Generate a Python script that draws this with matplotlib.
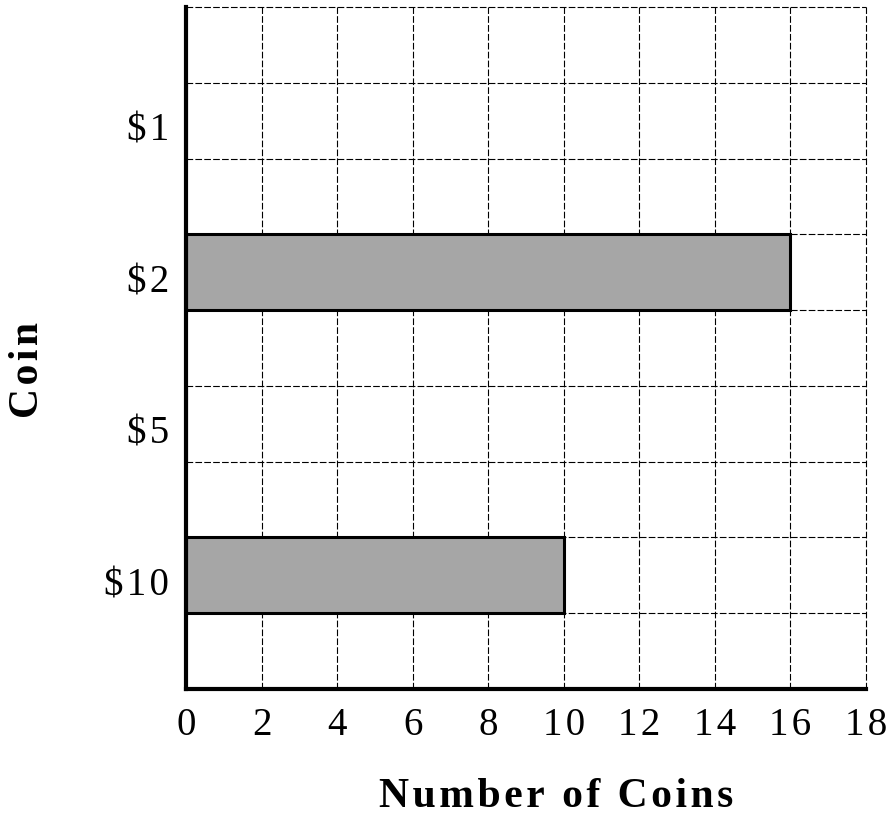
import matplotlib
matplotlib.use("Agg")
import matplotlib.pyplot as plt
import matplotlib.transforms as mtransforms
import numpy as np

coins = ["$1", "$2", "$5", "$10"]
counts = [0, 16, 0, 10]
x_ticks = [0, 2, 4, 6, 8, 10, 12, 14, 16, 18]
x_title = "Number of Coins"
y_title = "Coin"

HAIR = "\u200a"


def tracked(s):
    """Open up the letter spacing a little with hair spaces."""
    return HAIR.join(s)


plt.rcParams["font.family"] = ["Liberation Serif", "DejaVu Serif"]

fig = plt.figure(figsize=(8.86, 8.2), dpi=100)
ax = fig.add_axes([186 / 886, 1 - 690 / 820, 680 / 886, 682 / 820])

n = len(coins)
ypos = np.array([1.5 + 2 * (n - 1 - i) for i in range(n)])

ax.set_xlim(0, 18)
ax.set_ylim(0, 9)

# dashed reference grid: every 2 coins across, every half-row down
for xv in np.arange(2, 19, 2):
    ax.axvline(xv, color="black", lw=0.8, ls=(0, (6, 2)), zorder=1, clip_on=False)
for yv in np.arange(1, 10, 1):
    ax.axhline(yv, color="black", lw=0.8, ls=(0, (6, 2)), zorder=1, clip_on=False)

ax.barh(ypos, counts, height=1.0, color="#a6a6a6", edgecolor="black",
        linewidth=2.2, zorder=3)

ax.set_xticks(x_ticks)
ax.set_xticklabels([tracked(str(v)) for v in x_ticks], fontsize=28)
ax.set_yticks(ypos)
ax.set_yticklabels([tracked(c).replace("$", r"\$") for c in coins], fontsize=28)
ax.tick_params(axis="both", length=0)
ax.tick_params(axis="x", pad=12)
ax.tick_params(axis="y", pad=12)

# nudge the coin names a touch below the row centres
shift = mtransforms.ScaledTranslation(0, -5 / 100, fig.dpi_scale_trans)
for lbl in ax.get_yticklabels():
    lbl.set_transform(lbl.get_transform() + shift)

for side in ("top", "right"):
    ax.spines[side].set_visible(False)
for side in ("left", "bottom"):
    ax.spines[side].set_linewidth(3)
    ax.spines[side].set_zorder(5)

fig.text(556 / 886, 1 - 797 / 820, tracked(x_title), fontsize=30,
         fontweight="bold", ha="center", va="center")
fig.text(28 / 886, 1 - 370 / 820, tracked(y_title), fontsize=30,
         fontweight="bold", rotation=90, ha="center", va="center")

fig.savefig("out.png", dpi=100)
